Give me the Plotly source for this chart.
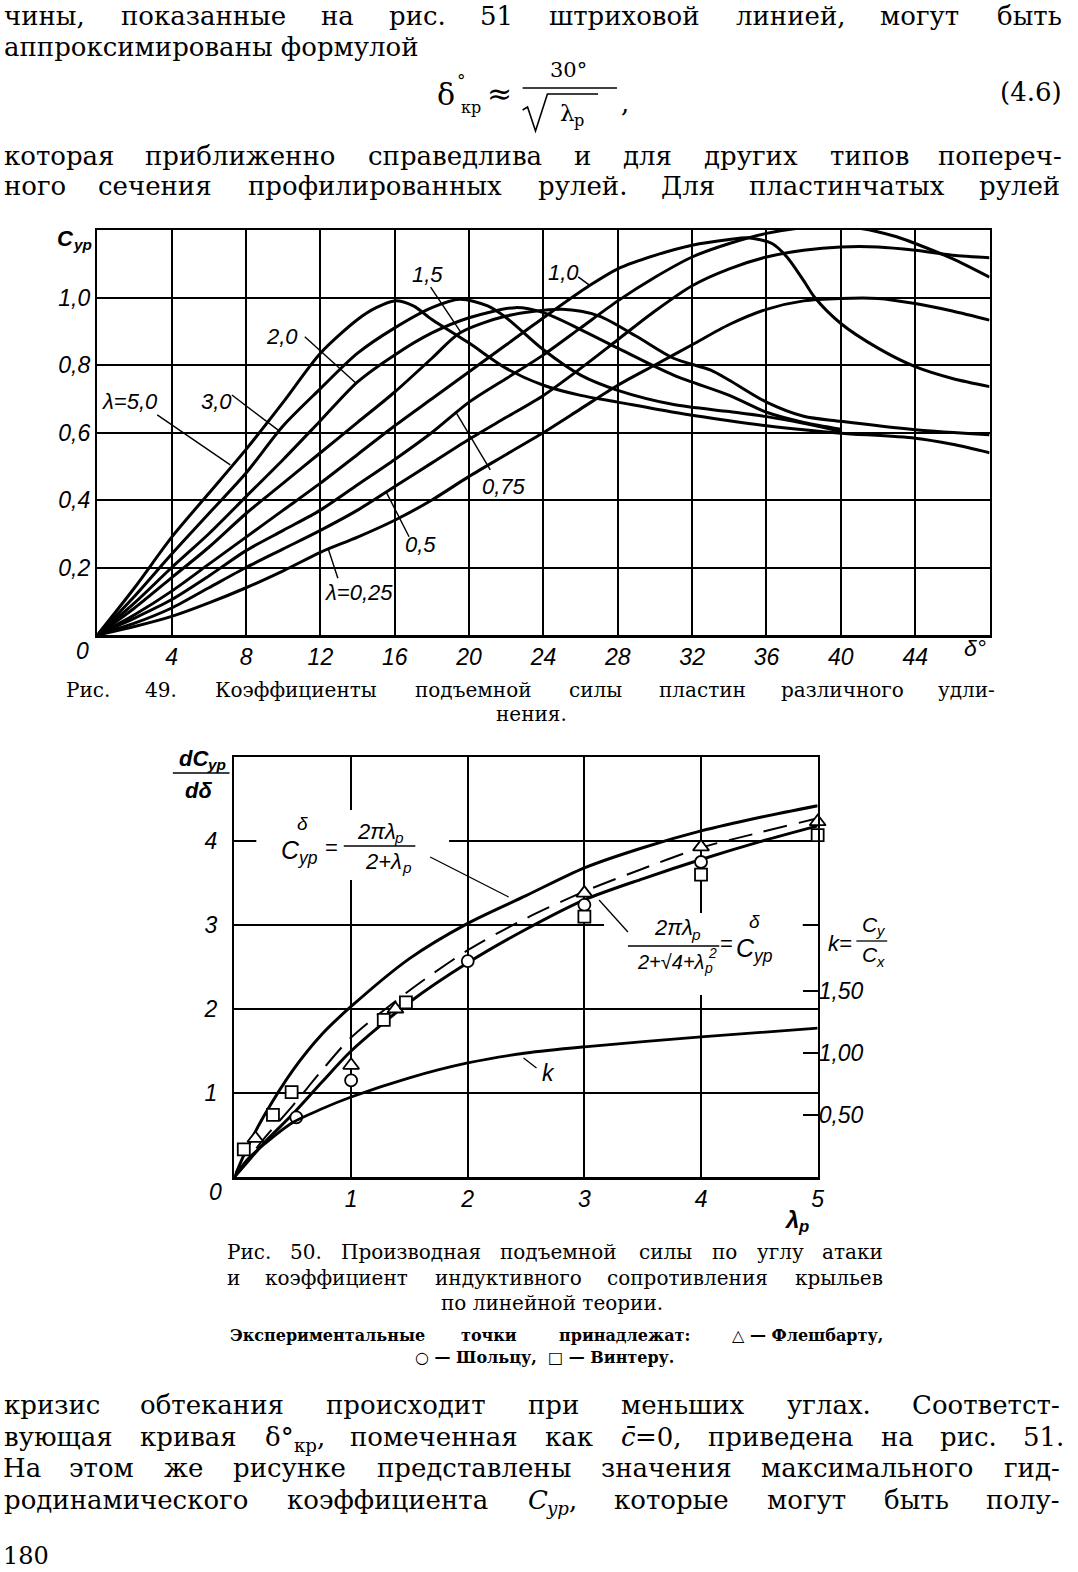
import plotly.graph_objects as go
import re

W, H = 1078, 1572

# ---------------- Fig. 49 data (delta in degrees, Cyp) ----------------
d_5_0 = [0, 2, 4, 6, 8, 10, 12, 14, 15, 16, 17, 18, 20, 22, 24, 26, 28, 31, 34, 36, 38, 40, 44, 46, 48]
cy_5_0 = [0, 0.14, 0.29, 0.42, 0.55, 0.69, 0.835, 0.935, 0.97, 0.99, 0.975, 0.935, 0.865, 0.79, 0.74, 0.71, 0.69,
          0.66, 0.635, 0.62, 0.608, 0.598, 0.583, 0.565, 0.54]

d_3_0 = [0, 2, 4, 6, 8, 10, 12, 14, 16, 18, 19.5, 21, 22, 24, 26, 28, 31, 34, 36, 38, 40]
cy_3_0 = [0, 0.115, 0.24, 0.36, 0.48, 0.62, 0.73, 0.835, 0.91, 0.97, 0.995, 0.975, 0.94, 0.845, 0.77, 0.725,
          0.683, 0.662, 0.647, 0.627, 0.603]

d_2_0 = [0, 2, 4, 6, 8, 10, 12, 14, 16, 18, 20, 22.5, 24, 26, 28, 31, 34, 36, 38, 40]
cy_2_0 = [0, 0.095, 0.2, 0.3, 0.41, 0.52, 0.635, 0.75, 0.83, 0.895, 0.94, 0.97, 0.955, 0.905, 0.85, 0.77, 0.71,
          0.66, 0.63, 0.61]

d_1_5 = [0, 2, 4, 6, 8, 10, 12, 14, 16, 18, 19.5, 22, 25, 27, 29, 31, 33, 34, 36, 38, 40, 44, 48]
cy_1_5 = [0, 0.08, 0.17, 0.26, 0.36, 0.45, 0.54, 0.63, 0.72, 0.82, 0.895, 0.945, 0.965, 0.945, 0.885, 0.82,
          0.785, 0.755, 0.69, 0.648, 0.633, 0.608, 0.593]

d_1_0 = [0, 2, 4, 6, 8, 10, 12, 14, 16, 18, 20, 22, 24, 26.5, 28, 30, 32, 34, 35, 36.3, 37.1, 38, 38.6, 40, 42,
         44, 46, 48]
cy_1_0 = [0, 0.06, 0.13, 0.21, 0.29, 0.37, 0.45, 0.535, 0.62, 0.7, 0.78, 0.86, 0.94, 1.036, 1.085, 1.125, 1.155,
          1.172, 1.177, 1.16, 1.12, 1.05, 1.0, 0.923, 0.85, 0.795, 0.76, 0.736]

d_0_75 = [0, 2, 4, 6, 8, 10, 12, 14, 16, 18, 20, 22, 24, 26, 28, 30, 32, 34, 36, 38, 39, 41, 43, 44, 46, 48]
cy_0_75 = [0, 0.05, 0.105, 0.175, 0.25, 0.31, 0.37, 0.445, 0.52, 0.6, 0.69, 0.76, 0.83, 0.91, 0.99, 1.06, 1.12,
           1.16, 1.19, 1.207, 1.21, 1.205, 1.18, 1.16, 1.115, 1.06]

d_0_5 = [0, 2, 4, 6, 8, 10, 12, 14, 16, 18, 20, 22, 24, 26, 28, 30, 32, 34, 36, 38, 40, 42, 44, 46, 48]
cy_0_5 = [0, 0.035, 0.08, 0.14, 0.2, 0.255, 0.31, 0.37, 0.44, 0.51, 0.58, 0.645, 0.71, 0.79, 0.875, 0.96, 1.035,
          1.085, 1.12, 1.14, 1.15, 1.15, 1.14, 1.125, 1.118]

d_0_25 = [0, 2, 4, 6, 8, 10, 12, 14, 16, 18, 20, 22, 24, 26, 28, 30, 32, 34, 36, 38, 40, 42, 44, 46, 48]
cy_0_25 = [0, 0.025, 0.055, 0.095, 0.14, 0.19, 0.245, 0.29, 0.34, 0.4, 0.47, 0.535, 0.6, 0.67, 0.74, 0.8, 0.86,
           0.92, 0.965, 0.99, 0.997, 0.997, 0.982, 0.96, 0.933]

x49_ticks = [4, 8, 12, 16, 20, 24, 28, 32, 36, 40, 44]
y49_ticks = [0.2, 0.4, 0.6, 0.8, 1.0]
y49_labels = ["0,2", "0,4", "0,6", "0,8", "1,0"]

# ---------------- Fig. 50 data (lambda_p, dCyp/d delta) ----------------
lam_upper = [0, 0.1, 0.25, 0.5, 0.75, 1, 1.5, 2, 2.5, 3, 3.5, 4, 4.5, 5]
cy_upper = [0, 0.32, 0.72, 1.27, 1.7, 2.03, 2.6, 3.02, 3.35, 3.68, 3.92, 4.12, 4.28, 4.42]

lam_lower = [0, 0.1, 0.25, 0.5, 0.75, 1, 1.5, 2, 2.5, 3, 3.5, 4, 4.5, 5]
cy_lower = [0, 0.16, 0.4, 0.75, 1.13, 1.5, 2.08, 2.55, 2.95, 3.3, 3.55, 3.78, 3.99, 4.18]

lam_dash = [0, 0.1, 0.25, 0.5, 0.75, 1, 1.5, 2, 2.5, 3, 3.5, 4, 4.5, 5]
cy_dash = [0, 0.18, 0.45, 0.85, 1.27, 1.66, 2.22, 2.7, 3.08, 3.4, 3.67, 3.92, 4.1, 4.27]

lam_k = [0, 0.1, 0.25, 0.5, 0.75, 1, 1.5, 2, 2.5, 3, 4, 5]
k_vals = [0, 0.13, 0.26, 0.44, 0.55, 0.645, 0.8, 0.92, 1.0, 1.05, 1.13, 1.2]

tri_lam = [0.18, 1.0, 1.38, 3.0, 4.0, 5.0]
tri_val = [0.46, 1.33, 2.0, 3.38, 3.93, 4.23]
circ_lam = [0.53, 1.0, 2.0, 3.0, 4.0, 5.08]
circ_val = [0.71, 1.15, 2.57, 3.24, 3.75, 4.14]
sq_lam = [0.08, 0.33, 0.49, 1.28, 1.47, 3.0, 4.0, 5.0]
sq_val = [0.33, 0.74, 1.01, 1.87, 2.08, 3.10, 3.60, 4.07]

x50_ticks = [1, 2, 3, 4, 5]
y50_ticks = [1, 2, 3, 4]
k_ticks = [0.5, 1.0, 1.5]
k_labels = ["0,50", "1,00", "1,50"]

# ---------------- helpers ----------------
SERIF = "DejaVu Serif"
ITAL = "Liberation Sans Narrow, Liberation Sans, Arial, sans-serif"

CW = {}
for ch, w in zip("абвгдеёжзийклмнопрстуфхцчшщъыьэюя",
                 [.596, .607, .604, .528, .666, .592, .592, .966, .545, .668, .668, .638, .652, .800, .668, .602,
                  .668, .640, .560, .574, .580, .873, .580, .668, .640, .956, .956, .674, .876, .604, .560, .892,
                  .622]):
    CW[ch] = w
for ch in "АБВГДЕЖЗИЙКЛМНОПРСТУФХЦЧШЩЪЫЬЭЮЯ":
    CW[ch] = 0.76
CW.update({"Ш": 1.15, "Ф": 0.87, "Ж": 1.1, "Р": 0.73, "С": 0.74, "Э": 0.74, "Н": 0.87, "Д": 0.78})
for ch in "0123456789":
    CW[ch] = 0.636
CW.update({",": .318, ".": .318, "-": .338, ":": .337, " ": .318, "=": .838, "°": .5, "δ": .6, "c": .56,
           "C": .70, "y": .58, "p": .64, "(": .39, ")": .39, "—": 1.0, "△": .77, "○": .87, "□": .77,
           "λ": .62, "\u0304": 0.0})
SW = {"C": .64, "y": .5, "p": .556, "x": .5, "d": .556, "δ": .556, "λ": .53, "2": .556, "π": .6, "+": .584,
      "√": .549, "4": .556, "k": .5, "=": .584}

annotations = []
shapes = []


def P(X, Y):
    return X / W, 1 - Y / H


def txt(X, Y, text, size, family=SERIF, xanchor="center", yanchor="middle", ref="paper",
        italic=False, bold=False):
    if ref == "paper":
        x, y = P(X, Y)
        xr, yr = "paper", "paper"
    else:
        x, y = X, Y
        xr, yr = ref
    font = dict(size=size, family=family, color="black")
    if italic:
        font["style"] = "italic"
    if bold:
        font["weight"] = "bold"
    annotations.append(dict(x=x, y=y, xref=xr, yref=yr, text=text, showarrow=False, xanchor=xanchor,
                            yanchor=yanchor, font=font, borderpad=0))


def segments(text):
    segs, mode, ital = [], "n", False
    for tok in re.split(r"(<[^>]+>)", text):
        if tok == "<sub>":
            mode = "sub"
        elif tok == "<sup>":
            mode = "sup"
        elif tok in ("</sub>", "</sup>"):
            mode = "n"
        elif tok == "<i>":
            ital = True
        elif tok == "</i>":
            ital = False
        elif tok:
            segs.append((tok, mode, ital))
    return segs


def seg_width(s, mode, size, wtab, bold):
    f = 0.7 if mode != "n" else 1.0
    return sum(wtab.get(ch, 0.62) for ch in s) * size * f * (1.08 if bold else 1.0)


GAP = 0.5


def rich_width(text, size, wtab=CW, bold=False):
    segs = segments(text)
    return sum(seg_width(s, m, size, wtab, bold) for s, m, _ in segs) + GAP * (len(segs) - 1)


def rich(X, Y, text, size, family=SERIF, wtab=CW, anchor="left", italic=False, bold=False):
    segs = segments(text)
    total = rich_width(text, size, wtab, bold)
    x = X if anchor == "left" else (X - total / 2 if anchor == "center" else X - total)
    for s, m, it in segs:
        w = seg_width(s, m, size, wtab, bold)
        if m == "n":
            txt(x, Y, s, size, family, xanchor="left", italic=italic or it, bold=bold)
        elif m == "sub":
            txt(x, Y + 0.31 * size, s, 0.7 * size, family, xanchor="left", italic=italic or it, bold=bold)
        else:
            txt(x, Y - 0.32 * size, s, 0.7 * size, family, xanchor="left", italic=italic or it, bold=bold)
        x += w + GAP


def line_px(X0, Y0, X1, Y1, width=1.5, layer="above"):
    x0, y0 = P(X0, Y0)
    x1, y1 = P(X1, Y1)
    shapes.append(dict(type="line", xref="paper", yref="paper", x0=x0, y0=y0, x1=x1, y1=y1,
                       line=dict(color="black", width=width), layer=layer))


def rect_px(X0, Y0, X1, Y1):
    x0, y0 = P(X0, Y1)
    x1, y1 = P(X1, Y0)
    shapes.append(dict(type="rect", xref="paper", yref="paper", x0=x0, y0=y0, x1=x1, y1=y1,
                       fillcolor="white", line=dict(width=0), layer="above"))


def justify(words, x0, x1, Y, size, family=SERIF, bold=False):
    ws = [rich_width(w, size, CW, bold) for w in words]
    n = len(words)
    gap = (x1 - x0 - sum(ws)) / (n - 1)
    x = x0
    for i, w in enumerate(words):
        if "<" in w:
            left = x1 - ws[i] if i == n - 1 else x
            rich(left, Y, w, size, family, CW, "left", bold=bold)
        elif i == 0:
            txt(x0, Y, w, size, family, xanchor="left", bold=bold)
        elif i == n - 1:
            txt(x1, Y, w, size, family, xanchor="right", bold=bold)
        else:
            txt(x + ws[i] / 2, Y, w, size, family, xanchor="center", bold=bold)
        x += ws[i] + gap


# ---------------- body text (top) ----------------
BS = 26
justify("чины, показанные на рис. 51 штриховой линией, могут быть".split(), 3, 1070, 16, BS)
txt(3, 46.5, "аппроксимированы формулой", BS, xanchor="left")

# formula (4.6)
txt(449, 94, "δ", 30)
txt(465, 80, "°", 17)
txt(474, 107, "кр", 16)
txt(503, 93, "≈", 30)
txt(572, 70, "30°", 21)
line_px(526, 88, 621, 88, 1.5)
pts = [P(526, 110), P(531, 107), P(539, 131), P(551, 94), P(602, 94)]
shapes.append(dict(type="path", xref="paper", yref="paper",
                   path="M " + " L ".join(f"{a},{b}" for a, b in pts),
                   line=dict(color="black", width=1.6)))
rich(575, 113, "λ<sub>p</sub>", 23, anchor="center")
txt(629, 103, ",", BS)
txt(1070, 92, "(4.6)", BS, xanchor="right")

justify("которая приближенно справедлива и для других типов попереч-".split(), 3, 1070, 155.5, BS)
justify("ного сечения профилированных рулей. Для пластинчатых рулей".split(), 3, 1068, 186, BS)

# ---------------- captions ----------------
CS = 20
justify("Рис. 49. Коэффициенты подъемной силы пластин различного удли-".split(), 65, 1003, 689.5, CS)
txt(535, 713.5, "нения.", CS)
justify("Рис. 50. Производная подъемной силы по углу атаки".split(), 227, 890, 1252, CS)
justify("и коэффициент индуктивного сопротивления крыльев".split(), 227, 890, 1278, CS)
txt(556, 1303, "по линейной теории.", CS)
justify(["Экспериментальные", "точки", "принадлежат:", "△ — Флешбарту,"], 230, 890, 1335, 16, bold=True)
txt(548, 1357, "○ — Шольцу,  □ — Винтеру.", 16, bold=True)

# ---------------- body text (bottom) ----------------
justify("кризис обтекания происходит при меньших углах. Соответст-".split(), 3, 1068, 1405, BS)
justify(["вующая", "кривая", "δ°<sub>кр</sub>,", "помеченная", "как", "<i>c\u0304</i>=0,", "приведена", "на",
         "рис.", "51."], 3, 1072, 1437, BS)
justify("На этом же рисунке представлены значения максимального гид-".split(), 2, 1068, 1468, BS)
justify(["родинамического", "коэффициента", "<i>C<sub>yp</sub></i>,", "которые", "могут", "быть", "полу-"],
        3, 1068, 1500, BS)
txt(2, 1556, "180", 24, xanchor="left")

# ---------------- Fig. 49 traces ----------------
fig = go.Figure()
curves49 = [(d_5_0, cy_5_0), (d_3_0, cy_3_0), (d_2_0, cy_2_0), (d_1_5, cy_1_5), (d_1_0, cy_1_0),
            (d_0_75, cy_0_75), (d_0_5, cy_0_5), (d_0_25, cy_0_25)]
for dx, cy in curves49:
    fig.add_trace(go.Scatter(x=dx, y=cy, mode="lines", xaxis="x", yaxis="y", hoverinfo="skip",
                             line=dict(color="black", width=3, shape="spline", smoothing=0.8)))

LS = 22
lab49 = [("λ=5,0", 1.76, 0.693, (3.22, 0.652, 7.15, 0.504)),
         ("3,0", 6.4, 0.693, (7.24, 0.711, 9.73, 0.607)),
         ("2,0", 9.95, 0.883, (11.16, 0.884, 13.92, 0.746)),
         ("1,5", 17.75, 1.067, (17.93, 1.031, 19.54, 0.898)),
         ("1,0", 25.1, 1.075, (25.87, 1.061, 26.49, 1.036)),
         ("0,75", 21.9, 0.44, (21.14, 0.489, 19.27, 0.662)),
         ("0,5", 17.4, 0.267, (16.77, 0.291, 15.53, 0.425)),
         ("λ=0,25", 14.1, 0.127, (12.94, 0.168, 12.41, 0.257))]
for t, lx, ly, (a, b, c, d) in lab49:
    txt(lx, ly, t, LS, ITAL, ref=("x", "y"), italic=True)
    shapes.append(dict(type="line", xref="x", yref="y", x0=a, y0=b, x1=c, y1=d,
                       line=dict(color="black", width=1.4)))

rich(73, 238, "C<sub>yp</sub>", 22, ITAL, SW, "center", italic=True, bold=True)
txt(83, 651, "0", 23, ITAL, italic=True)
txt(981, 648, "δ°", 23, ITAL, italic=True)

# ---------------- Fig. 50 traces ----------------
fig.add_trace(go.Scatter(x=lam_upper, y=cy_upper, mode="lines", xaxis="x2", yaxis="y2", hoverinfo="skip",
                         line=dict(color="black", width=3, shape="spline", smoothing=0.8)))
fig.add_trace(go.Scatter(x=lam_lower, y=cy_lower, mode="lines", xaxis="x2", yaxis="y2", hoverinfo="skip",
                         line=dict(color="black", width=3, shape="spline", smoothing=0.8)))
fig.add_trace(go.Scatter(x=lam_dash, y=cy_dash, mode="lines", xaxis="x2", yaxis="y2", hoverinfo="skip",
                         line=dict(color="black", width=2, dash="24px,12px", shape="spline", smoothing=0.8)))
fig.add_trace(go.Scatter(x=lam_k, y=k_vals, mode="lines", xaxis="x2", yaxis="y3", hoverinfo="skip",
                         line=dict(color="black", width=2.8, shape="spline", smoothing=0.8)))

mk = dict(color="white", line=dict(color="black", width=1.8))
fig.add_trace(go.Scatter(x=tri_lam, y=tri_val, mode="markers", xaxis="x2", yaxis="y2", cliponaxis=False,
                         marker=dict(symbol="triangle-up", size=14, **mk), hoverinfo="skip"))
fig.add_trace(go.Scatter(x=circ_lam, y=circ_val, mode="markers", xaxis="x2", yaxis="y2", cliponaxis=False,
                         marker=dict(symbol="circle", size=12, **mk), hoverinfo="skip"))
fig.add_trace(go.Scatter(x=sq_lam, y=sq_val, mode="markers", xaxis="x2", yaxis="y2", cliponaxis=False,
                         marker=dict(symbol="square", size=12, **mk), hoverinfo="skip"))

# formula 1
FS = 22
rect_px(258, 810, 452, 880)
rich(282, 850, "C<sub>yp</sub>", 25, ITAL, SW, "left", italic=True)
txt(304, 823, "δ", 19, ITAL, italic=True)
txt(334, 847, "=", FS, ITAL)
rich(381, 831, "2πλ<sub>p</sub>", FS, ITAL, SW, "center", italic=True)
line_px(346, 846, 418, 846, 1.5)
rich(389, 861, "2+λ<sub>p</sub>", FS, ITAL, SW, "center", italic=True)
line_px(433, 857, 512, 897, 1.3)

# formula 2
rect_px(608, 913, 808, 995)
rich(680, 928, "2πλ<sub>p</sub>", FS, ITAL, SW, "center", italic=True)
line_px(632, 946, 724, 946, 1.5)
rich(678, 962, "2+√4+λ<sub>p</sub>", 20, ITAL, SW, "center", italic=True)
txt(717, 953, "2", 14, ITAL, italic=True)
txt(731, 943, "=", FS, ITAL)
rich(740, 948, "C<sub>yp</sub>", 25, ITAL, SW, "left", italic=True)
txt(759, 921, "δ", 19, ITAL, italic=True)
line_px(603, 900, 632, 932, 1.3)

# k label
txt(552, 1073, "k", 23, ITAL, italic=True)
line_px(540, 1068, 527, 1058, 1.3)
txt(845, 943, "k=", 22, ITAL, italic=True)
rich(877, 924, "C<sub>y</sub>", 21, ITAL, SW, "center", italic=True)
line_px(862, 941, 893, 941, 1.3)
rich(877, 955, "C<sub>x</sub>", 21, ITAL, SW, "center", italic=True)

# y-axis label fig 50
rich(202, 758, "dC<sub>yp</sub>", 22, ITAL, SW, "center", italic=True, bold=True)
line_px(174, 773, 231, 773, 1.5)
txt(200, 790, "dδ", 22, ITAL, italic=True, bold=True)
rich(800, 1219, "λ<sub>p</sub>", 24, ITAL, SW, "center", italic=True, bold=True)
txt(217, 1192, "0", 23, ITAL, italic=True)

# ---------------- axes ----------------
tickfont = dict(family=ITAL, size=23, color="black", style="italic")
axis_common = dict(showgrid=True, gridcolor="black", gridwidth=2, showline=True, linecolor="black",
                   linewidth=2.5, mirror=True, zeroline=False, ticks="", tickfont=tickfont, fixedrange=True)

fig.update_layout(
    width=W, height=H, margin=dict(l=0, r=0, t=0, b=0), showlegend=False,
    paper_bgcolor="white", plot_bgcolor="white",
    xaxis=dict(domain=[98 / W, 996 / W], range=[0, 48], anchor="y", tickvals=x49_ticks,
               ticktext=[str(v) for v in x49_ticks], **axis_common),
    yaxis=dict(domain=[1 - 635 / H, 1 - 230 / H], range=[0, 1.2], anchor="x", tickvals=y49_ticks,
               ticktext=y49_labels, **axis_common),
    xaxis2=dict(domain=[236 / W, 823 / W], range=[0, 5], anchor="y2", tickvals=x50_ticks,
                ticktext=[str(v) for v in x50_ticks], **axis_common),
    yaxis2=dict(domain=[1 - 1177 / H, 1 - 757 / H], range=[0, 5], anchor="x2", tickvals=y50_ticks,
                ticktext=[str(v) for v in y50_ticks], ticklabelstandoff=10, **axis_common),
    yaxis3=dict(overlaying="y2", side="right", anchor="x2", range=[0, 420 / 124], tickvals=k_ticks,
                ticktext=k_labels, ticks="inside", ticklen=15, tickwidth=2,
                tickcolor="black", showgrid=False, showline=False, zeroline=False, tickfont=tickfont,
                fixedrange=True),
    annotations=annotations, shapes=shapes,
)

fig.write_html("out.html", config={"displayModeBar": False, "staticPlot": True},
               post_script="document.body.style.margin='0';document.body.style.overflow='hidden';")
